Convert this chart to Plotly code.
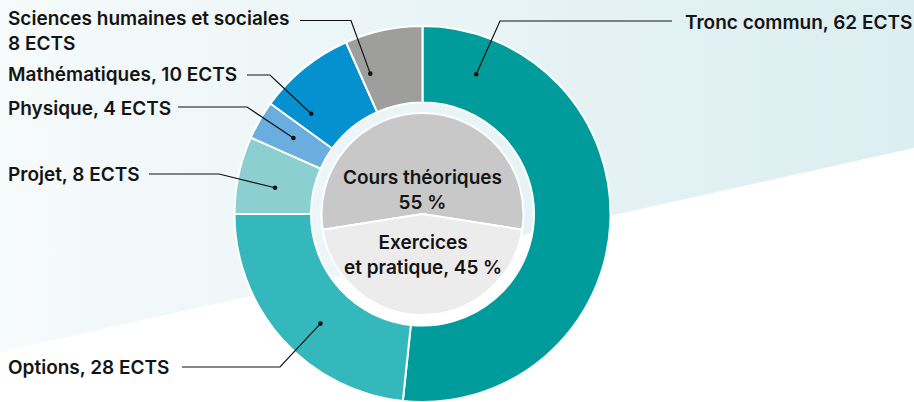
import math
import plotly.graph_objects as go

# ---------------- data ----------------
ring_labels = ["Tronc commun", "Options", "Projet", "Physique", "Mathématiques",
               "Sciences humaines et sociales"]
ring_ects = [62, 28, 8, 4, 10, 8]
core_labels = ["Cours théoriques", "Exercices et pratique"]
core_pct = [55, 45]

# ---------------- style ----------------
ring_colors = ["#009b9b", "#35b8bb", "#8ccfd0", "#6aaedf", "#0591d0", "#9e9e9d"]
core_colors = ["#c8c8c8", "#ececec"]
W, H = 914, 402
CX, CY = 422.5, 214.0        # pixel centre of the donut
R_OUT, R_IN, R_CORE = 188.0, 111.5, 101.0
FONT = dict(family="Inter, 'Noto Sans', sans-serif", size=19, color="#141414", weight=600)

# callout layout per ring slice: text anchor, elbow/line points and where in the slice the dot sits
callouts = [
    dict(tx=914, ty=22, xa="right", ya="middle", line=[(672, 21), (500, 21)], frac=0.113, sep=", "),
    dict(tx=6, ty=367, xa="left", ya="middle", line=[(182, 367), (280, 367)], frac=0.44, sep=", "),
    dict(tx=6, ty=174.5, xa="left", ya="middle", line=[(149, 174), (219, 174)], frac=0.42, sep=", "),
    dict(tx=6, ty=108, xa="left", ya="middle", line=[(178, 107), (247, 107)], frac=0.54, sep=", "),
    dict(tx=6, ty=74, xa="left", ya="middle", line=[(247, 75), (270, 75)], frac=0.2, sep=", "),
    dict(tx=6, ty=31, xa="left", ya="middle", line=[(300, 20.5), (351, 20.5)], frac=0.15, sep="<br>"),
]

fig = go.Figure()

# background band with horizontal gradient
fig.add_trace(go.Scatter(
    x=[0, W, W, 0, 0], y=[0, 0, 148, 352, 0], mode="lines", line=dict(width=0),
    fill="toself", fillgradient=dict(type="horizontal",
                                     colorscale=[[0, "#f6fafb"], [1, "#dbeef1"]]),
    hoverinfo="skip", showlegend=False))

def dom(r):
    return dict(x=[max(0, (CX - r) / W), min(1, (CX + r) / W)],
                y=[max(0, (H - CY - r) / H), min(1, (H - CY + r) / H)])

fig.add_trace(go.Pie(
    labels=ring_labels, values=ring_ects, sort=False, direction="clockwise", rotation=0,
    hole=R_IN / R_OUT, domain=dom(R_OUT), textinfo="none",
    marker=dict(colors=ring_colors, line=dict(color="white", width=2)),
    showlegend=False))

core_span = 360 * core_pct[0] / sum(core_pct)
fig.add_trace(go.Pie(
    labels=core_labels, values=core_pct, sort=False, direction="clockwise",
    rotation=-core_span / 2, domain=dom(R_CORE), textinfo="none",
    marker=dict(colors=core_colors, line=dict(color="white", width=2)),
    showlegend=False))

# callouts
total = sum(ring_ects)
start = 0.0
shapes, annotations = [], []
r_mid = (R_OUT + R_IN) / 2
for name, v, c in zip(ring_labels, ring_ects, callouts):
    span = 360 * v / total
    th = math.radians(start + c["frac"] * span)
    dx, dy = CX + r_mid * math.sin(th), CY - r_mid * math.cos(th)
    start += span
    pts = c["line"] + [(dx, dy)]
    path = "M " + " L ".join(f"{px},{py}" for px, py in pts)
    shapes.append(dict(type="path", path=path, xref="x", yref="y", layer="above",
                       line=dict(color="#111111", width=1.2)))
    shapes.append(dict(type="circle", xref="x", yref="y", layer="above",
                       x0=dx - 2.3, x1=dx + 2.3, y0=dy - 2.3, y1=dy + 2.3,
                       fillcolor="#111111", line=dict(width=0)))
    annotations.append(dict(text=f"{name}{c['sep']}{v} ECTS", x=c["tx"], y=c["ty"],
                            xref="x", yref="y", xanchor=c["xa"], yanchor=c["ya"],
                            align="left", showarrow=False, font=FONT))

core_text = [f"{core_labels[0]}<br>{core_pct[0]} %",
             f"Exercices<br>et pratique, {core_pct[1]} %"]
for t, yy in zip(core_text, [190, 255]):
    annotations.append(dict(text=t, x=CX, y=yy, xref="x", yref="y", xanchor="center",
                            yanchor="middle", align="center", showarrow=False, font=FONT))

fig.update_layout(
    width=W, height=H, margin=dict(l=0, r=0, t=0, b=0),
    paper_bgcolor="white", plot_bgcolor="white", font=FONT,
    xaxis=dict(range=[0, W], visible=False, fixedrange=True),
    yaxis=dict(range=[H, 0], visible=False, fixedrange=True),
    shapes=shapes, annotations=annotations, showlegend=False)

fig.write_html("out.html", config={"displayModeBar": False},
               post_script="document.body.style.margin='0';document.body.style.overflow='hidden';")
